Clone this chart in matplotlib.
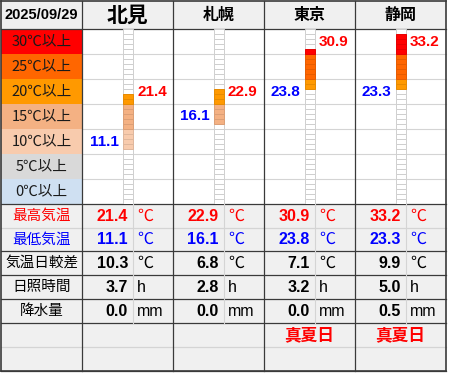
import math
import matplotlib
matplotlib.use('Agg')
from matplotlib import pyplot as plt
from matplotlib.patches import Rectangle
from matplotlib.colors import to_rgb

# data
date = '2025/09/29'
cities = ['北見', '札幌', '東京', '静岡']
t_max = [21.4, 22.9, 30.9, 33.2]
t_min = [11.1, 16.1, 23.8, 23.3]
t_range = [10.3, 6.8, 7.1, 9.9]
sunshine = [3.7, 2.8, 3.2, 5.0]
precip = [0.0, 0.0, 0.0, 0.5]
notes = ['', '', '真夏日', '真夏日']
band_lows = [30, 25, 20, 15, 10, 5, 0]
band_labels = ['30℃以上', '25℃以上', '20℃以上', '15℃以上', '10℃以上', '5℃以上', '0℃以上']
band_colors = ['#FF0000', '#FF6600', '#FF9900', '#F4B183', '#F8CBAD', '#D9D9D9', '#CFE0F2']
row_labels = ['最高気温', '最低気温', '気温日較差', '日照時間', '降水量']
row_units = ['℃', '℃', '℃', 'h', 'mm']

JP = ['Noto Sans CJK JP', 'DejaVu Sans']
NUM = ['Liberation Sans', 'Noto Sans CJK JP']
DARK = '#3a3a3a'
LIGHT = '#d4d4d4'
BG = '#f0f0f0'

W, H = 450, 374
fig = plt.figure(figsize=(W/100, H/100), dpi=100)
ax = fig.add_axes([0, 0, 1, 1])
ax.set_xlim(0, W)
ax.set_ylim(H, 0)
ax.axis('off')

# layout (pixels)
x0, xl, cw = 1, 82, 91
xr = xl + cw*4
col_x = [xl + i*cw for i in range(4)]
y_head = (1, 29)
band_y = [29 + 25*i for i in range(8)]
low_y = [204, 228, 251, 275, 299, 323, 347, 371]

# backgrounds
ax.add_patch(Rectangle((x0, 1), xr-x0, 28, fc=BG, ec='none'))
ax.add_patch(Rectangle((x0, 204), xr-x0, 167, fc=BG, ec='none'))
for i, c in enumerate(band_colors):
    ax.add_patch(Rectangle((x0, band_y[i]), xl-x0, 25, fc=c, ec='none'))
    ax.text((x0+xl)/2, band_y[i]+12.5, band_labels[i], family=JP, fontsize=10.5,
            color='#1a1a1a', ha='center', va='center')

# grid lines in temperature area
for y in band_y[1:-1]:
    ax.plot([xl, xr], [y, y], color=LIGHT, lw=0.8)
# lower table lines
for k, y in enumerate(low_y):
    c = LIGHT if k in (1, 6) else DARK
    ax.plot([x0, xr], [y, y], color=c, lw=0.9)
ax.plot([x0, xr], [29, 29], color=DARK, lw=0.9)
for cx in col_x:
    ax.plot([cx+51, cx+51], [204, 323], color=LIGHT, lw=0.8)
for cx in col_x:
    ax.plot([cx, cx], [1, 371], color=DARK, lw=0.9)
ax.plot([x0, x0], [1, 371], color=DARK, lw=1.2)
ax.plot([xr, xr], [1, 371], color=DARK, lw=1.2)
ax.plot([x0, xr], [1, 1], color=DARK, lw=1.2)
ax.plot([x0, xr], [371, 371], color=DARK, lw=1.2)

# header
ax.text((x0+xl)/2, 15, date, family=NUM, fontsize=10.5, weight='bold', ha='center', va='center')
for i, name in enumerate(cities):
    ax.text(col_x[i]+cw/2, 15, name, family=JP, fontsize=15 if i == 0 else 11.5,
            weight='bold', ha='center', va='center')

# lower table
row_vals = [t_max, t_min, t_range, sunshine, precip]
row_cols = ['#FF0000', '#0000FF', 'black', 'black', 'black']
for r in range(5):
    yc = (low_y[r]+low_y[r+1])/2
    ax.text((x0+xl)/2, yc, row_labels[r], family=JP, fontsize=10.5, color=row_cols[r],
            ha='center', va='center')
    for i in range(4):
        ax.text(col_x[i]+46, yc, '%.1f' % row_vals[r][i], family=NUM, fontsize=11.5,
                weight='bold', color=row_cols[r], ha='right', va='center')
        ax.text(col_x[i]+55, yc, row_units[r], family=JP if row_units[r] == '℃' else NUM,
                fontsize=11.5, color=row_cols[r], ha='left', va='center')
for i, n in enumerate(notes):
    if n:
        ax.text(col_x[i]+cw/2, (low_y[5]+low_y[6])/2, n, family=JP, fontsize=12,
                weight='bold', color='#FF0000', ha='center', va='center')

# temperature bars
tax = fig.add_axes([xl/W, (H-204)/H, (xr-xl)/W, 175/H])
tax.set_xlim(0, 4)
tax.set_ylim(0, 35)
tax.axis('off')
tax.patch.set_alpha(0)
bl, bw = 41.3/cw, 9.4/cw


def band_color(t):
    return band_colors[band_lows.index(min(30, max(0, int(t//5)*5)))]


for i in range(4):
    tax.bar([i+bl]*35, [1]*35, bottom=list(range(35)), width=bw, align='edge',
            color='white', edgecolor='#cfcfcf', linewidth=0.7)
    cells = list(range(int(math.floor(t_min[i])), int(math.floor(t_max[i]))+1))
    fcs = [band_color(t) for t in cells]
    ecs = [tuple(v*0.9 for v in to_rgb(c)) for c in fcs]
    tax.bar([i+bl]*len(cells), [1]*len(cells), bottom=cells, width=bw, align='edge',
            color=fcs, edgecolor=ecs, linewidth=0.7)
    tax.text(i+55/cw, (t_max[i]//5)*5+2.5, '%.1f' % t_max[i], family=NUM, fontsize=11,
             weight='bold', color='#FF0000', ha='left', va='center')
    tax.text(i+36.5/cw, (t_min[i]//5)*5+2.5, '%.1f' % t_min[i], family=NUM, fontsize=11,
             weight='bold', color='#0000FF', ha='right', va='center')

fig.savefig('out.png', dpi=100)
